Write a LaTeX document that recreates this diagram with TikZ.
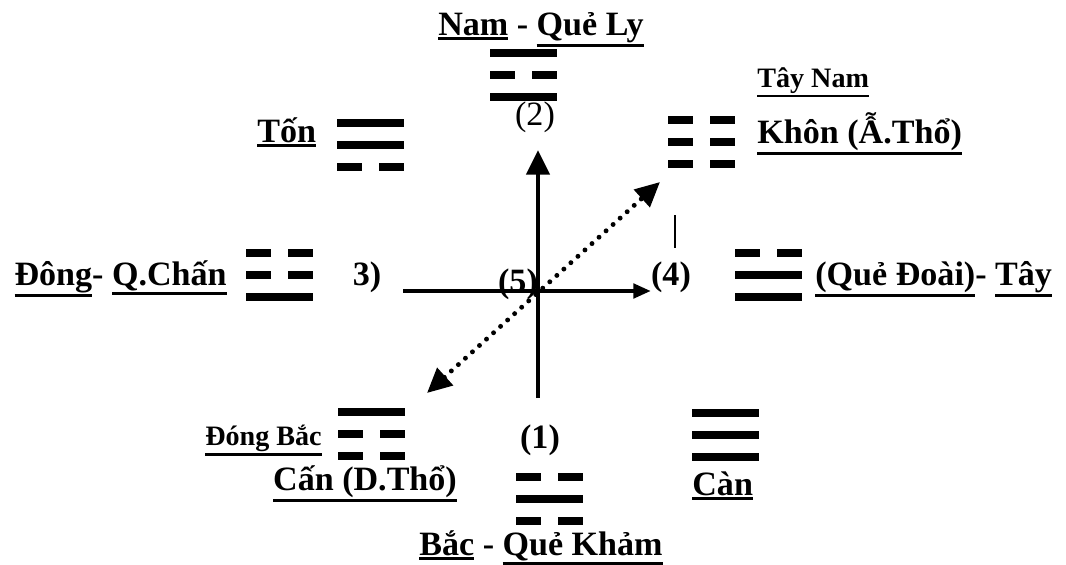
\documentclass[tikz,border=0pt]{standalone}
\usepackage{fontspec}
\setmainfont{Liberation Serif}
\usetikzlibrary{arrows.meta}

% underline of a word, a bit heavier than \underline
\newcommand{\gach}[1]{\setbox0\hbox{#1}%
  \rlap{\vrule width\wd0 height\dimexpr-\dp0-1pt\relax depth\dimexpr\dp0+2.5pt\relax}\box0\relax}

% one trigram: #1 = left x, #2 = top y, #3 = lines top to bottom (1 solid, 0 broken)
\newcommand{\quai}[3]{%
  \foreach \yao [count=\k from 0] in {#3} {
    \pgfmathsetmacro{\yy}{#2 + \k*22}
    \ifnum\yao=1
      \draw[hao] (#1,\yy) -- ++(67,0);
    \else
      \draw[hao] (#1,\yy) -- ++(25,0) ++(17,0) -- ++(25,0);
    \fi
  }}

\tikzset{
  hao/.style={line width=4pt},
  lbl/.style={font=\bfseries\fontsize{19.4}{22}\selectfont, inner sep=0},
  sublbl/.style={font=\bfseries\fontsize{16}{18}\selectfont, inner sep=0},
  truc/.style={line width=2.8pt, -{Triangle[length=14pt, width=13pt]}},
  truc nho/.style={line width=2.8pt, -{Triangle[length=10pt, width=8pt]}},
  cheo/.style={line width=2.8pt, line cap=round, dash pattern=on 0pt off 5.4pt,
               {Triangle[length=14pt, width=13pt]}-{Triangle[length=14pt, width=13pt]}},
}

\begin{document}
\begin{tikzpicture}[x=0.02cm, y=-0.02cm]
  \path[fill=white, use as bounding box] (0,0) rectangle (1066,565);

  % ---- the eight trigrams ----
  \quai{490}{53}{1,0,1}   % Ly
  \quai{337}{123}{1,1,0}  % Ton
  \quai{668}{120}{0,0,0}  % Khon
  \quai{246}{253}{0,0,1}  % Chan
  \quai{735}{253}{0,1,1}  % Doai
  \quai{338}{412}{1,0,0}  % Can (D.Tho)
  \quai{516}{477}{0,1,0}  % Kham
  \quai{692}{413}{1,1,1}  % Can

  % ---- labels ----
  \node[lbl, anchor=base] (nam) at (541,35) {\gach{Nam} - \gach{Quẻ Ly}};
  \node[lbl, anchor=base, font=\fontsize{19.4}{22}\selectfont] (hai) at (535,125) {(2)};
  \node[lbl, anchor=base west] (ton) at (257,142) {\gach{Tốn}};
  \node[sublbl, anchor=base west] (taynam) at (757,87) {\gach{Tây Nam}};
  \node[lbl, anchor=base west] (khon) at (757,143) {\gach{Khôn (Ẫ.Thổ)}};
  \node[lbl, anchor=base east] (dong) at (227,285) {\gach{Đông}- \gach{Q.Chấn}};
  \node[lbl, anchor=base] (ba) at (367,285) {3)};
  \node[lbl, anchor=base] (nam5) at (518,292) {(5)};
  \node[lbl, anchor=base] (bon) at (671,285) {(4)};
  \node[lbl, anchor=base west] (doai) at (815,285) {\gach{(Quẻ Đoài)}- \gach{Tây}};
  \node[sublbl, anchor=base east] (dongbac) at (322,445) {\gach{Đóng Bắc}};
  \node[lbl, anchor=base] (cand) at (365,490) {\gach{Cấn (D.Thổ)}};
  \node[lbl, anchor=base] (mot) at (540,448) {(1)};
  \node[lbl, anchor=base west] (can) at (692,495) {\gach{Càn}};
  \node[lbl, anchor=base] (bac) at (541,555) {\gach{Bắc} - \gach{Quẻ Khảm}};

  % ---- axes ----
  \coordinate (bac-chan) at (538,398);
  \coordinate (nam-dinh) at (538,150);
  \coordinate (dong-chan) at (403,291);
  \coordinate (tay-dinh) at (651,291);
  \coordinate (db-dinh) at (427,393);
  \coordinate (tn-dinh) at (660,182);
  \coordinate (vach-a) at (675,215);
  \coordinate (vach-b) at (675,248);

  \draw[truc] (bac-chan) -- (nam-dinh);
  \draw[truc nho] (dong-chan) -- (tay-dinh);
  \draw[cheo] (db-dinh) -- (tn-dinh);
  \draw[line width=1.6pt] (vach-a) -- (vach-b);
\end{tikzpicture}
\end{document}
